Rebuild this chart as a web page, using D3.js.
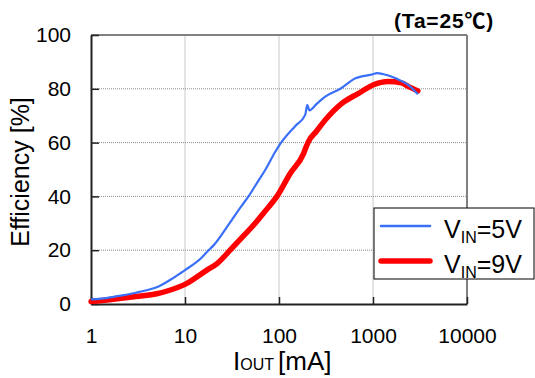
<!DOCTYPE html>
<html>
<head>
<meta charset="utf-8">
<script src="https://cdn.jsdelivr.net/npm/d3@7"></script>
<style>
  body { margin: 0; background: #fff; }
  text { font-family: "Liberation Sans", Arial, sans-serif; fill: #000; }
</style>
</head>
<body>
<div class="chart"></div>
<script>
// output current [mA] and efficiency [%]
const iout_5v = [1, 1.5, 2, 3, 4, 5, 7, 8.9, 10, 15, 17.8, 20, 29.7, 40, 47.4, 60, 71.3, 91, 103, 150, 190, 200, 210, 250, 310, 449, 650, 1000, 1100, 1300, 1740, 2390, 3000]
const eff_5v  = [1.7, 2.3, 3.0, 4.2, 5.2, 6.2, 9.0, 11.4, 12.6, 17.2, 20, 21.7, 30, 36.5, 40, 45.7, 49.8, 56.5, 59.5, 66.3, 70.3, 74, 72, 74.3, 77.1, 80, 83.9, 85.4, 85.8, 85.4, 83.9, 81.4, 78]

const iout_9v = [1, 1.5, 2, 3, 5, 7, 10, 17.1, 22.1, 30.2, 40, 55.8, 70, 95, 132, 183, 195, 205, 250, 310, 467, 703, 1000, 1466, 2000, 2390, 3000]
const eff_9v  = [0.9, 1.5, 2.0, 2.8, 3.8, 5.2, 7.3, 12.6, 15.1, 20, 24.6, 30, 34.2, 40, 48.6, 56, 58.5, 60.3, 64.2, 68.4, 74.6, 78.3, 81.4, 82.7, 82.2, 80.8, 79.2]

const x_ticks = [1, 10, 100, 1000, 10000]
const y_ticks = [0, 20, 40, 60, 80, 100]

const width = 535
const height = 378
const margin = {top: 35, right: 68, bottom: 74, left: 91}

const x = d3.scaleLog()
  .domain([1, 10000])
  .range([margin.left, width - margin.right])

const y = d3.scaleLinear()
  .domain([0, 100])
  .range([height - margin.bottom, margin.top])

const svg = d3.select(".chart").append("svg")
  .attr("width", width)
  .attr("height", height)

// grid
svg.selectAll(".vgrid")
  .data(x_ticks.slice(1, -1))
  .enter().append("line")
  .attr("x1", d => x(d)).attr("x2", d => x(d))
  .attr("y1", y(0)).attr("y2", y(100))
  .attr("stroke", "#c8c8c8").attr("stroke-width", 1)

svg.selectAll(".hgrid")
  .data(y_ticks.slice(1, -1))
  .enter().append("line")
  .attr("x1", x(1)).attr("x2", x(10000))
  .attr("y1", d => y(d)).attr("y2", d => y(d))
  .attr("stroke", "#8c8c8c").attr("stroke-width", 1)
  .attr("stroke-dasharray", "1,1")

// frame: top and right grey, left and bottom black
svg.append("line")
  .attr("x1", x(1)).attr("x2", x(10000))
  .attr("y1", y(100)).attr("y2", y(100))
  .attr("stroke", "#808080").attr("stroke-width", 2)
svg.append("line")
  .attr("x1", x(10000)).attr("x2", x(10000))
  .attr("y1", y(100)).attr("y2", y(0))
  .attr("stroke", "#808080").attr("stroke-width", 2)

// axes with inward ticks
const xAxis = svg.append("g")
  .attr("transform", "translate(0," + y(0) + ")")
  .call(d3.axisBottom(x).tickValues(x_ticks).tickFormat(d3.format("d"))
    .tickSizeInner(-7).tickSizeOuter(0).tickPadding(24))
xAxis.select(".domain").attr("stroke", "#222").attr("stroke-width", 2)
xAxis.selectAll(".tick line").attr("stroke", "#222").attr("stroke-width", 1.5)
xAxis.selectAll("text").attr("font-size", "21px").attr("fill", "#000")
  .attr("font-family", "Liberation Sans, Arial, sans-serif")

const yAxis = svg.append("g")
  .attr("transform", "translate(" + x(1) + ",0)")
  .call(d3.axisLeft(y).tickValues(y_ticks)
    .tickSizeInner(-8).tickSizeOuter(0).tickPadding(20))
yAxis.select(".domain").attr("stroke", "#222").attr("stroke-width", 2)
yAxis.selectAll(".tick line").attr("stroke", "#222").attr("stroke-width", 1.5)
yAxis.selectAll("text").attr("font-size", "21px").attr("fill", "#000")
  .attr("font-family", "Liberation Sans, Arial, sans-serif")

// curves
const line = d3.line()
  .x(d => x(d[0]))
  .y(d => y(d[1]))
  .curve(d3.curveMonotoneX)

svg.append("path")
  .datum(iout_9v.map((v, i) => [v, eff_9v[i]]))
  .attr("d", line)
  .attr("fill", "none")
  .attr("stroke", "#ff0000")
  .attr("stroke-width", 5.5)
  .attr("stroke-linejoin", "round")
  .attr("stroke-linecap", "round")

svg.append("path")
  .datum(iout_5v.map((v, i) => [v, eff_5v[i]]))
  .attr("d", line)
  .attr("fill", "none")
  .attr("stroke", "#3a6ff7")
  .attr("stroke-width", 2.2)
  .attr("stroke-linejoin", "round")

// axis titles
svg.append("text")
  .attr("transform", "translate(29," + 172 + ") rotate(-90)")
  .attr("text-anchor", "middle")
  .attr("font-size", "25px")
  .text("Efficiency [%]")

const xt = svg.append("text")
  .attr("x", 233)
  .attr("y", 370)
  .attr("font-size", "26px")
xt.append("tspan").text("I")
xt.append("tspan").attr("font-size", "16px").attr("dy", 0).text("OUT")
xt.append("tspan").attr("dx", 4).text("[mA]")

const tt = svg.append("text")
  .attr("x", 494)
  .attr("y", 28)
  .attr("text-anchor", "end")
  .attr("font-size", "21px")
  .attr("font-weight", "bold")
  .attr("letter-spacing", "0.8px")
tt.append("tspan").text("(Ta=25")
tt.append("tspan").attr("font-family", "Noto Sans CJK JP").attr("font-weight", "bold").text("\u2103")
tt.append("tspan").text(")")

// legend
const legend_names = [["5V", "#3a6ff7", 2.5], ["9V", "#ff0000", 5.5]]
const lg = svg.append("g")
lg.append("rect")
  .attr("x", 374).attr("y", 208)
  .attr("width", 160).attr("height", 71)
  .attr("fill", "#fff").attr("stroke", "#000").attr("stroke-width", 1)

lg.selectAll(".lgline")
  .data(legend_names)
  .enter().append("line")
  .attr("x1", 381).attr("x2", 430)
  .attr("y1", (d, i) => 226 + i * 35).attr("y2", (d, i) => 226 + i * 35)
  .attr("stroke", d => d[1]).attr("stroke-width", d => d[2])
  .attr("stroke-linecap", "round")

const lt = lg.selectAll(".lgtext")
  .data(legend_names)
  .enter().append("text")
  .attr("x", 444)
  .attr("y", (d, i) => 238 + i * 35)
  .attr("font-size", "25px")
lt.append("tspan").text("V")
lt.append("tspan").attr("font-size", "16px").attr("dy", 5).text("IN")
lt.append("tspan").attr("dy", -5).text(d => "=" + d[0])
</script>
</body>
</html>
